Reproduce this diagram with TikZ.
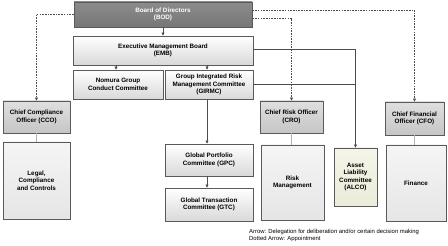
\documentclass[tikz,border=0pt]{standalone}
\usepackage{fontspec}
\setmainfont{Liberation Sans}
\usepackage{xcolor}
\usetikzlibrary{arrows.meta,calc,positioning}
\definecolor{boardgray}{HTML}{777777}
\definecolor{edgegray}{HTML}{5A5A5A}
\definecolor{alcofill}{HTML}{ECECDA}
\begin{document}
\begin{tikzpicture}[x=1pt,y=-1pt,font=\fontsize{6.3}{7.6}\selectfont\bfseries,
  >={Triangle[length=3pt,width=3pt]},
  box/.style={draw=edgegray,line width=0.9pt,top color=white,bottom color=gray!30,
    align=center,inner sep=1pt,text=black},
  darkbox/.style={box,top color=gray!25,bottom color=gray!45},
  bigbox/.style={box,top color=gray!8,bottom color=gray!20},
  appoint/.style={dash pattern=on 1.6pt off 1.1pt,line width=0.5pt,gray!60!black},
  deleg/.style={line width=0.5pt,gray!60!black}]
  \useasboundingbox (0,0) rectangle (448,246);
  % top of the tree
  \node[box,top color=boardgray!85,bottom color=boardgray,text=white,
    minimum width=178,minimum height=25] (bod) at (163,14.5) {Board of Directors\\(BOD)};
  \node[box,minimum width=180,minimum height=29] (emb) at (163,50.5) {Executive Management Board\\(EMB)};
  \node[box,minimum width=90,minimum height=29] (ngcc) at (118,84.5) {Nomura Group\\Conduct Committee};
  \node[box,minimum width=88,minimum height=29] (girmc) at (209,84.5)
    {Group Integrated Risk\\Management Committee\\(GIRMC)};
  % officers
  \node[darkbox,minimum width=67,minimum height=32] (cco) at (36.5,117) {Chief Compliance\\Officer (CCO)};
  \node[darkbox,minimum width=63,minimum height=32] (cro) at (291.5,117) {Chief Risk Officer\\(CRO)};
  \node[darkbox,minimum width=59,minimum height=33] (cfo) at (414.5,118.5) {Chief Financial\\Officer (CFO)};
  % divisions and committees
  \node[bigbox,minimum width=67,minimum height=77] (legal) at (36.5,180.5) {Legal,\\Compliance\\and Controls};
  \node[bigbox,minimum width=63,minimum height=75] (risk) at (292.5,182.5) {Risk\\Management};
  \node[box,top color=alcofill!60,bottom color=alcofill,minimum width=43,minimum height=58]
    (alco) at (355.5,177) {Asset\\Liability\\Committee\\(ALCO)};
  \node[bigbox,minimum width=60,minimum height=76] (fin) at (416,183) {Finance};
  \node[box,minimum width=88,minimum height=32] (gpc) at (209,160) {Global Portfolio\\Committee (GPC)};
  \node[box,minimum width=88,minimum height=33] (gtc) at (209,204.5) {Global Transaction\\Committee (GTC)};
  % delegation arrows
  \draw[deleg,->] (bod) -- (emb);
  \draw[deleg,->] ($(emb.south -| ngcc.north)+(-2,0)$) -- ($(ngcc.north)+(-2,0)$);
  \draw[deleg,->] ($(emb.south -| girmc.north)+(-2,0)$) -- ($(girmc.north)+(-2,0)$);
  \draw[deleg,->] ($(girmc.south)+(-2,0)$) -- ($(gpc.north)+(-2,0)$);
  \draw[deleg,->] ($(gpc.south)+(-2,0)$) -- ($(gtc.north)+(-2,0)$);
  \coordinate (embR) at ($(emb.east)+(0,-1.5)$);
  \coordinate (alcoT) at (alco.north |- embR);
  \draw[deleg,->] (embR) -- (alcoT) -- (alco.north);
  \draw[deleg] (girmc.east) -- (girmc.east -| alco.north);
  % appointment (dotted) arrows
  \coordinate (bodL) at ($(bod.west)+(0,-0.5)$);
  \draw[appoint,->] (bodL) -- (bodL -| cco.north) -- (cco.north);
  \draw[appoint] ($(emb.west)+(0,-3.5)$) -- ($(emb.west)+(0,-3.5)$ -| cco.north);
  \coordinate (bodRa) at ($(bod.east)+(0,-4.5)$);
  \coordinate (bodRb) at ($(bod.east)+(0,3.5)$);
  \draw[appoint,->] (bodRa) -- (bodRa -| cfo.north) -- (cfo.north);
  \draw[appoint,->] (bodRb) -- (bodRb -| cro.north) -- (cro.north);
  \draw[appoint] ($(emb.east)+(0,-8.5)$) -- ($(emb.east)+(0,-8.5)$ -| cfo.north);
  \draw[appoint] ($(emb.east)+(0,2.5)$) -- ($(emb.east)+(0,2.5)$ -| cro.north);
  % plain links
  \draw[deleg,gray!60] (cco) -- (legal);
  \draw[deleg,gray!60] (cro.south) -- (cro.south |- risk.north);
  \draw[deleg,gray!60] (cfo.south) -- (cfo.south |- fin.north);
  % legend
  \node[font=\fontsize{5.9}{7}\selectfont,anchor=north west,align=left,inner sep=0pt] (key) at (249,229)
    {Arrow: Delegation for deliberation and/or certain decision making\\Dotted Arrow: Appointment};
\end{tikzpicture}
\end{document}
